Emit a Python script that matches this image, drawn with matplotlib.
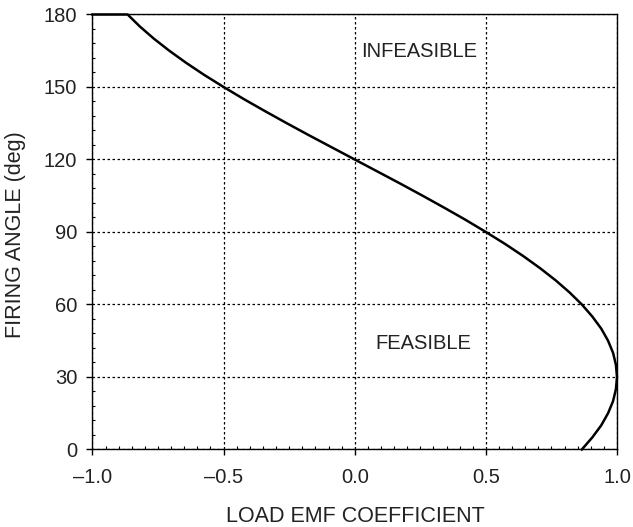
import matplotlib
matplotlib.use("Agg")
import matplotlib.pyplot as plt
from matplotlib.ticker import MultipleLocator

# Boundary curve: firing angle (deg) vs load EMF coefficient
alpha = [180, 180, 175, 170, 165, 160, 155, 150, 145, 140, 135, 130, 125, 120,
         115, 110, 105, 100, 95, 90, 85, 80, 75, 70, 65, 60, 55, 50, 45, 40,
         35, 30, 25, 20, 15, 10, 5, 0]
emf = [-1.0, -0.866, -0.819, -0.766, -0.707, -0.643, -0.574, -0.500, -0.423,
       -0.342, -0.259, -0.174, -0.087, 0.000, 0.087, 0.174, 0.259, 0.342,
       0.423, 0.500, 0.574, 0.643, 0.707, 0.766, 0.819, 0.866, 0.906, 0.940,
       0.966, 0.985, 0.996, 1.000, 0.996, 0.985, 0.966, 0.940, 0.906, 0.866]

x_ticks = [-1.0, -0.5, 0.0, 0.5, 1.0]
x_labels = ["\u20131.0", "\u20130.5", "0.0", "0.5", "1.0"]
y_ticks = [0, 30, 60, 90, 120, 150, 180]

plt.rcParams["font.family"] = ["Liberation Sans", "DejaVu Sans"]
ink = "#222222"

fig = plt.figure(figsize=(6.33, 5.27), dpi=100)
ax = fig.add_axes([0.1461, 0.1471, 0.8286, 0.8254])

ax.plot(emf, alpha, color="black", lw=1.8, clip_on=False, zorder=3)

ax.set_xlim(-1.0, 1.0)
ax.set_ylim(0, 180)
ax.set_xticks(x_ticks)
ax.set_xticklabels(x_labels)
ax.set_yticks(y_ticks)
ax.xaxis.set_minor_locator(MultipleLocator(0.05))
ax.yaxis.set_minor_locator(MultipleLocator(6))
ax.tick_params(which="major", direction="out", length=4.5, width=1,
               labelsize=14.5, labelcolor=ink)
ax.tick_params(which="minor", direction="in", length=2.5, width=0.8)
ax.tick_params(axis="x", which="major", pad=8.5)
ax.tick_params(axis="y", which="major", pad=6.5)

ax.grid(True, which="major", color="black", linestyle=(0, (2, 2)), lw=0.9)
for s in ax.spines.values():
    s.set_linewidth(1.0)

ax.text(0.247, 162.4, "INFEASIBLE", ha="center", va="baseline",
        fontsize=14.5, color=ink)
ax.text(0.26, 41.4, "FEASIBLE", ha="center", va="baseline",
        fontsize=14.5, color=ink)

fig.text(355 / 633, 1 - 522 / 527, "LOAD EMF COEFFICIENT", ha="center",
         va="baseline", fontsize=15.5, color=ink)
fig.text(16 / 633, 1 - 235 / 527, "FIRING ANGLE (deg)", ha="center",
         va="center", rotation=90, fontsize=15.5, color=ink)

fig.savefig("out.png", dpi=100)
